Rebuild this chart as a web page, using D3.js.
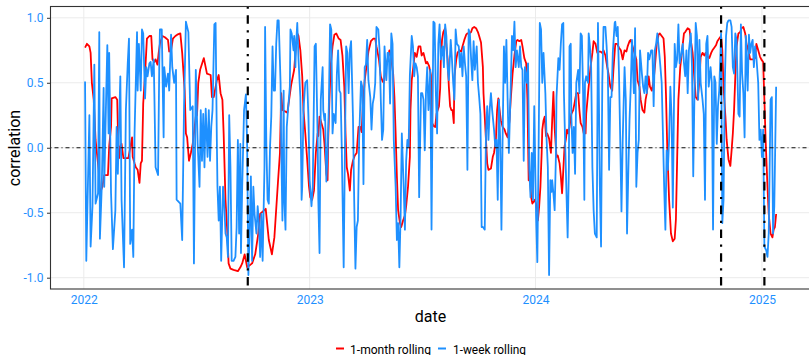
<!DOCTYPE html>
<html>
<head>
<meta charset="utf-8">
<script src="https://cdn.jsdelivr.net/npm/d3@7"></script>
<style>
  body { margin: 0; background: #ffffff; }
  svg { display: block; }
  text { font-family: Roboto, "Liberation Sans", sans-serif; }
</style>
</head>
<body>
<svg id="chart" width="809" height="355"></svg>
<script>
// Rolling correlation, 1-month window: [date, correlation]
const oneMonth = [
["2022-01-03",0.77],["2022-01-06",0.80],["2022-01-10",0.78],["2022-01-12",0.73],["2022-01-14",0.50],["2022-01-17",0.37],
["2022-01-20",0.06],["2022-01-25",-0.17],["2022-01-27",-0.35],["2022-01-31",-0.30],["2022-02-03",-0.21],["2022-02-09",-0.21],
["2022-02-11",0.01],["2022-02-14",0.16],["2022-02-15",0.38],["2022-02-21",0.39],["2022-02-24",0.37],["2022-02-25",0.16],
["2022-02-26",0.01],["2022-02-27",-0.08],["2022-03-01",0.01],["2022-03-03",0.03],["2022-03-06",-0.08],["2022-03-11",-0.08],
["2022-03-14",-0.08],["2022-03-20",0.08],["2022-03-21",-0.07],["2022-03-24",-0.12],["2022-03-26",-0.15],["2022-03-29",-0.17],
["2022-04-01",-0.27],["2022-04-03",-0.12],["2022-04-05",-0.10],["2022-04-07",0.34],["2022-04-10",0.57],["2022-04-13",0.84],
["2022-04-17",0.86],["2022-04-20",0.86],["2022-04-22",0.68],["2022-04-25",0.66],["2022-04-27",0.68],["2022-04-30",0.64],
["2022-05-02",0.73],["2022-05-04",0.80],["2022-05-08",0.86],["2022-05-12",0.85],["2022-05-17",0.83],["2022-05-19",0.74],
["2022-05-22",0.75],["2022-05-25",0.84],["2022-05-29",0.86],["2022-06-01",0.87],["2022-06-06",0.88],["2022-06-09",0.73],
["2022-06-13",0.44],["2022-06-15",0.11],["2022-06-17",0.08],["2022-06-20",-0.10],["2022-06-23",-0.04],["2022-06-26",0.03],
["2022-06-28",0.11],["2022-07-01",0.24],["2022-07-03",0.25],["2022-07-05",0.50],["2022-07-08",0.60],["2022-07-14",0.69],
["2022-07-19",0.57],["2022-07-25",0.56],["2022-07-27",0.39],["2022-07-30",0.39],["2022-08-04",0.52],["2022-08-07",0.56],
["2022-08-10",0.42],["2022-08-13",0.37],["2022-08-15",0.11],["2022-08-18",-0.40],["2022-08-21",-0.66],["2022-08-23",-0.89],
["2022-08-26",-0.93],["2022-08-31",-0.94],["2022-09-07",-0.95],["2022-09-11",-0.92],["2022-09-14",-0.89],["2022-09-18",-0.82],
["2022-09-22",-0.92],["2022-09-30",-0.89],["2022-10-05",-0.82],["2022-10-10",-0.66],["2022-10-13",-0.51],["2022-10-22",-0.47],
["2022-10-27",-0.71],["2022-11-01",-0.82],["2022-11-05",-0.69],["2022-11-11",-0.25],["2022-11-14",-0.04],["2022-11-16",0.42],
["2022-11-18",0.29],["2022-11-26",0.27],["2022-12-02",0.48],["2022-12-07",0.60],["2022-12-09",0.73],["2022-12-12",0.88],
["2022-12-14",0.86],["2022-12-17",0.75],["2022-12-20",0.55],["2022-12-22",0.29],["2022-12-25",0.11],["2022-12-28",-0.09],
["2022-12-31",-0.30],["2023-01-02",-0.38],["2023-01-05",-0.40],["2023-01-08",-0.33],["2023-01-11",-0.04],["2023-01-14",0.11],
["2023-01-15",0.09],["2023-01-17",0.24],["2023-01-20",0.19],["2023-01-23",0.14],["2023-01-25",0.03],["2023-01-28",-0.20],
["2023-01-30",-0.25],["2023-01-31",0.06],["2023-02-02",0.37],["2023-02-04",0.63],["2023-02-07",0.78],["2023-02-10",0.87],
["2023-02-13",0.88],["2023-02-17",0.84],["2023-02-20",0.83],["2023-02-23",0.71],["2023-02-26",0.47],["2023-02-28",0.11],
["2023-03-02",-0.15],["2023-03-04",-0.20],["2023-03-07",-0.33],["2023-03-09",-0.17],["2023-03-12",-0.10],["2023-03-15",-0.06],
["2023-03-18",-0.04],["2023-03-21",0.16],["2023-03-24",0.16],["2023-03-26",0.12],["2023-03-28",0.32],["2023-03-31",0.52],
["2023-04-03",0.63],["2023-04-06",0.74],["2023-04-10",0.82],["2023-04-14",0.84],["2023-04-17",0.84],["2023-04-19",0.78],
["2023-04-23",0.68],["2023-04-26",0.55],["2023-04-29",0.51],["2023-05-01",0.50],["2023-05-04",0.62],["2023-05-07",0.68],
["2023-05-10",0.75],["2023-05-13",0.68],["2023-05-16",0.57],["2023-05-18",0.39],["2023-05-20",0.11],["2023-05-22",-0.22],
["2023-05-24",-0.48],["2023-05-27",-0.58],["2023-05-29",-0.61],["2023-06-01",-0.56],["2023-06-04",-0.52],["2023-06-06",-0.45],
["2023-06-09",-0.30],["2023-06-12",-0.07],["2023-06-13",0.29],["2023-06-15",0.52],["2023-06-18",0.64],["2023-06-20",0.73],
["2023-06-23",0.70],["2023-06-26",0.78],["2023-06-29",0.78],["2023-07-01",0.71],["2023-07-04",0.73],["2023-07-08",0.65],
["2023-07-10",0.66],["2023-07-13",0.63],["2023-07-16",0.56],["2023-07-18",0.19],["2023-07-20",0.17],["2023-07-23",0.16],
["2023-07-25",0.26],["2023-07-29",0.32],["2023-07-31",0.46],["2023-08-01",0.68],["2023-08-03",0.83],["2023-08-05",0.89],
["2023-08-08",0.92],["2023-08-10",0.78],["2023-08-12",0.68],["2023-08-14",0.47],["2023-08-16",0.32],["2023-08-18",0.29],
["2023-08-20",0.29],["2023-08-22",0.19],["2023-08-23",0.55],["2023-08-26",0.68],["2023-08-28",0.73],["2023-08-31",0.75],
["2023-09-03",0.74],["2023-09-05",0.78],["2023-09-08",0.83],["2023-09-11",0.87],["2023-09-13",0.88],["2023-09-16",0.88],
["2023-09-19",0.89],["2023-09-21",0.92],["2023-09-24",0.93],["2023-09-27",0.92],["2023-09-30",0.89],["2023-10-02",0.86],
["2023-10-05",0.81],["2023-10-08",0.62],["2023-10-09",0.42],["2023-10-11",0.24],["2023-10-13",0.06],["2023-10-15",-0.12],
["2023-10-17",-0.17],["2023-10-21",-0.16],["2023-10-24",-0.07],["2023-10-26",-0.04],["2023-10-29",0.06],["2023-10-31",0.29],
["2023-11-02",0.38],["2023-11-04",0.29],["2023-11-06",0.21],["2023-11-09",0.16],["2023-11-12",0.14],["2023-11-14",0.11],
["2023-11-17",0.08],["2023-11-20",0.21],["2023-11-22",0.37],["2023-11-25",0.57],["2023-11-28",0.71],["2023-12-01",0.82],
["2023-12-03",0.83],["2023-12-06",0.82],["2023-12-09",0.83],["2023-12-11",0.78],["2023-12-14",0.69],["2023-12-17",0.65],
["2023-12-19",0.37],["2023-12-21",-0.25],["2023-12-23",-0.19],["2023-12-25",-0.38],["2023-12-27",-0.43],["2023-12-31",-0.40],
["2024-01-03",-0.45],["2024-01-05",-0.56],["2024-01-07",-0.45],["2024-01-09",-0.30],["2024-01-11",-0.04],["2024-01-12",0.14],
["2024-01-14",0.21],["2024-01-16",0.24],["2024-01-18",0.09],["2024-01-20",0.11],["2024-01-23",0.07],["2024-01-26",-0.04],
["2024-01-28",0.21],["2024-01-30",0.43],["2024-02-01",0.15],["2024-02-04",-0.07],["2024-02-06",-0.06],["2024-02-09",-0.12],
["2024-02-11",-0.22],["2024-02-13",-0.35],["2024-02-15",-0.17],["2024-02-17",0.01],["2024-02-19",0.06],["2024-02-21",0.14],
["2024-02-23",0.11],["2024-02-25",0.16],["2024-02-28",0.26],["2024-03-02",0.29],["2024-03-04",0.34],["2024-03-07",0.42],
["2024-03-10",0.42],["2024-03-12",0.29],["2024-03-14",0.19],["2024-03-17",0.16],["2024-03-19",0.11],["2024-03-22",0.11],
["2024-03-23",0.26],["2024-03-26",0.42],["2024-03-28",0.52],["2024-03-30",0.62],["2024-04-02",0.73],["2024-04-04",0.82],
["2024-04-07",0.80],["2024-04-10",0.73],["2024-04-12",0.74],["2024-04-15",0.74],["2024-04-18",0.73],["2024-04-20",0.75],
["2024-04-23",0.71],["2024-04-26",0.62],["2024-04-28",0.57],["2024-05-01",0.47],["2024-05-04",0.44],["2024-05-06",0.60],
["2024-05-09",0.80],["2024-05-12",0.80],["2024-05-15",0.77],["2024-05-18",0.75],["2024-05-21",0.68],["2024-05-24",0.75],
["2024-05-27",0.74],["2024-05-29",0.78],["2024-06-01",0.82],["2024-06-03",0.83],["2024-06-06",0.78],["2024-06-09",0.73],
["2024-06-12",0.68],["2024-06-14",0.52],["2024-06-17",0.47],["2024-06-19",0.37],["2024-06-22",0.29],["2024-06-25",0.27],
["2024-06-27",0.37],["2024-06-29",0.42],["2024-07-02",0.55],["2024-07-04",0.47],["2024-07-07",0.44],["2024-07-10",0.52],
["2024-07-12",0.62],["2024-07-15",0.80],["2024-07-18",0.87],["2024-07-20",0.88],["2024-07-23",0.86],["2024-07-26",0.84],
["2024-07-28",0.70],["2024-07-30",0.40],["2024-08-01",0.00],["2024-08-04",-0.40],["2024-08-07",-0.66],["2024-08-10",-0.72],
["2024-08-13",-0.70],["2024-08-15",-0.55],["2024-08-17",-0.09],["2024-08-19",0.37],["2024-08-22",0.62],["2024-08-25",0.75],
["2024-08-28",0.88],["2024-08-30",0.89],["2024-09-03",0.92],["2024-09-06",0.91],["2024-09-08",0.83],["2024-09-11",0.73],
["2024-09-14",0.52],["2024-09-16",0.39],["2024-09-19",0.37],["2024-09-22",0.52],["2024-09-24",0.70],["2024-09-27",0.73],
["2024-09-30",0.71],["2024-10-02",0.73],["2024-10-05",0.70],["2024-10-08",0.69],["2024-10-11",0.73],["2024-10-13",0.75],
["2024-10-16",0.77],["2024-10-19",0.79],["2024-10-21",0.82],["2024-10-24",0.84],["2024-10-27",0.86],["2024-10-29",0.75],
["2024-10-31",0.47],["2024-11-03",0.24],["2024-11-05",0.06],["2024-11-08",-0.09],["2024-11-11",-0.14],["2024-11-13",-0.02],
["2024-11-15",0.11],["2024-11-17",0.29],["2024-11-19",0.55],["2024-11-21",0.78],["2024-11-24",0.88],["2024-11-27",0.89],
["2024-11-29",0.92],["2024-12-02",0.93],["2024-12-05",0.88],["2024-12-07",0.80],["2024-12-10",0.75],["2024-12-13",0.68],
["2024-12-15",0.68],["2024-12-18",0.68],["2024-12-21",0.69],["2024-12-23",0.80],["2024-12-26",0.75],["2024-12-29",0.70],
["2024-12-31",0.68],["2025-01-03",0.66],["2025-01-05",0.37],["2025-01-07",0.06],["2025-01-10",-0.30],["2025-01-12",-0.51],
["2025-01-15",-0.66],["2025-01-18",-0.69],["2025-01-20",-0.63],["2025-01-22",-0.61],["2025-01-24",-0.51]
];

// Rolling correlation, 1-week window: [date, correlation]
const oneWeek = [
["2022-01-03",0.51],["2022-01-05",-0.87],["2022-01-10",0.25],["2022-01-12",-0.76],["2022-01-15",-0.45],["2022-01-18",0.64],
["2022-01-20",-0.43],["2022-01-24",-0.35],["2022-01-26",0.89],["2022-01-27",-0.70],["2022-01-30",-0.30],["2022-02-02",0.46],
["2022-02-03",-0.30],["2022-02-06",0.37],["2022-02-08",0.79],["2022-02-10",0.11],["2022-02-11",0.73],["2022-02-14",-0.35],
["2022-02-17",-0.78],["2022-02-21",-0.48],["2022-02-23",0.16],["2022-02-25",-0.20],["2022-03-01",0.55],["2022-03-03",-0.40],
["2022-03-07",-0.92],["2022-03-10",0.29],["2022-03-13",0.65],["2022-03-15",0.84],["2022-03-17",-0.74],["2022-03-20",-0.63],
["2022-03-22",-0.84],["2022-03-24",0.11],["2022-03-28",0.89],["2022-03-29",0.44],["2022-03-31",0.80],["2022-04-03",0.44],
["2022-04-05",0.91],["2022-04-07",0.88],["2022-04-10",0.38],["2022-04-12",0.62],["2022-04-14",0.55],["2022-04-17",0.65],
["2022-04-19",0.66],["2022-04-21",0.55],["2022-04-24",0.68],["2022-04-25",0.42],["2022-04-27",-0.15],["2022-05-01",-0.21],
["2022-05-03",0.66],["2022-05-04",0.91],["2022-05-07",0.91],["2022-05-10",0.08],["2022-05-11",0.62],["2022-05-14",0.47],
["2022-05-17",0.57],["2022-05-19",0.44],["2022-05-22",0.87],["2022-05-24",0.62],["2022-05-27",0.50],["2022-05-30",0.60],
["2022-05-31",-0.40],["2022-06-06",-0.43],["2022-06-09",-0.71],["2022-06-12",0.32],["2022-06-15",0.97],["2022-06-19",0.89],
["2022-06-22",0.29],["2022-06-26",0.32],["2022-06-28",-0.89],["2022-07-01",0.60],["2022-07-04",0.03],["2022-07-07",-0.30],
["2022-07-09",0.29],["2022-07-11",-0.10],["2022-07-13",0.26],["2022-07-15",-0.15],["2022-07-17",0.30],["2022-07-20",-0.07],
["2022-07-22",0.29],["2022-07-24",-0.10],["2022-07-26",0.16],["2022-07-28",0.29],["2022-07-31",0.95],["2022-08-02",0.96],
["2022-08-04",0.06],["2022-08-05",-0.30],["2022-08-07",-0.56],["2022-08-09",-0.30],["2022-08-11",-0.87],["2022-08-14",-0.30],
["2022-08-16",-0.43],["2022-08-18",-0.66],["2022-08-20",-0.69],["2022-08-22",-0.84],["2022-08-24",0.25],["2022-08-26",-0.15],
["2022-08-28",-0.87],["2022-08-31",-0.87],["2022-09-03",-0.84],["2022-09-05",-0.61],["2022-09-07",0.06],["2022-09-09",-0.66],
["2022-09-11",0.03],["2022-09-12",-0.81],["2022-09-14",-0.30],["2022-09-17",0.29],["2022-09-19",0.37],["2022-09-20",0.41],
["2022-09-22",0.01],["2022-09-24",-0.98],["2022-09-26",-0.66],["2022-09-28",-0.22],["2022-09-30",-0.87],["2022-10-02",-0.30],
["2022-10-04",-0.51],["2022-10-07",-0.66],["2022-10-09",-0.45],["2022-10-11",-0.58],["2022-10-13",-0.84],["2022-10-15",-0.51],
["2022-10-17",-0.87],["2022-10-20",-0.15],["2022-10-21",0.93],["2022-10-23",0.03],["2022-10-25",-0.40],["2022-10-27",-0.43],
["2022-10-29",0.01],["2022-10-31",0.24],["2022-11-02",0.78],["2022-11-04",0.44],["2022-11-06",0.44],["2022-11-08",0.80],
["2022-11-10",0.98],["2022-11-12",0.98],["2022-11-15",0.50],["2022-11-16",0.03],["2022-11-18",-0.56],["2022-11-20",0.44],
["2022-11-21",-0.40],["2022-11-23",-0.63],["2022-11-25",0.16],["2022-11-27",0.29],["2022-11-30",0.47],["2022-12-01",0.91],
["2022-12-03",0.88],["2022-12-06",0.75],["2022-12-07",0.86],["2022-12-09",0.62],["2022-12-10",0.78],["2022-12-12",0.96],
["2022-12-14",0.68],["2022-12-17",0.39],["2022-12-19",-0.40],["2022-12-20",-0.30],["2022-12-22",0.29],["2022-12-25",0.50],
["2022-12-28",0.52],["2022-12-30",0.24],["2023-01-01",-0.25],["2023-01-04",-0.45],["2023-01-06",-0.30],["2023-01-09",0.78],
["2023-01-11",0.80],["2023-01-14",0.06],["2023-01-15",-0.40],["2023-01-17",-0.81],["2023-01-19",0.37],["2023-01-22",0.62],
["2023-01-23",0.29],["2023-01-25",0.21],["2023-01-26",0.26],["2023-01-28",-0.26],["2023-01-30",-0.04],["2023-02-01",0.32],
["2023-02-03",0.95],["2023-02-05",0.91],["2023-02-07",0.11],["2023-02-09",0.26],["2023-02-12",0.19],["2023-02-14",0.57],
["2023-02-16",0.75],["2023-02-18",0.44],["2023-02-20",0.42],["2023-02-22",-0.02],["2023-02-25",-0.92],["2023-02-27",-0.02],
["2023-03-01",0.78],["2023-03-03",0.73],["2023-03-05",0.42],["2023-03-07",0.75],["2023-03-09",0.82],["2023-03-12",0.24],
["2023-03-14",-0.40],["2023-03-16",-0.93],["2023-03-18",-0.61],["2023-03-20",-0.56],["2023-03-22",0.06],["2023-03-25",0.51],
["2023-03-27",0.47],["2023-03-29",-0.28],["2023-03-31",0.62],["2023-04-02",0.64],["2023-04-04",0.83],["2023-04-06",0.52],
["2023-04-09",0.39],["2023-04-11",0.14],["2023-04-13",0.34],["2023-04-15",0.39],["2023-04-17",0.50],["2023-04-19",0.93],
["2023-04-22",0.91],["2023-04-24",0.75],["2023-04-26",0.37],["2023-04-28",0.06],["2023-04-30",0.14],["2023-05-02",0.78],
["2023-05-05",0.52],["2023-05-07",0.73],["2023-05-09",0.73],["2023-05-11",0.34],["2023-05-13",0.88],["2023-05-15",0.80],
["2023-05-17",0.06],["2023-05-20",-0.30],["2023-05-22",-0.71],["2023-05-24",-0.58],["2023-05-26",-0.92],["2023-05-28",-0.53],
["2023-05-30",0.11],["2023-06-02",-0.30],["2023-06-04",-0.63],["2023-06-06",-0.10],["2023-06-08",0.06],["2023-06-10",0.01],
["2023-06-12",0.56],["2023-06-15",0.86],["2023-06-17",0.78],["2023-06-19",0.55],["2023-06-21",0.65],["2023-06-23",0.62],
["2023-06-25",0.55],["2023-06-27",-0.38],["2023-06-30",0.42],["2023-07-02",0.42],["2023-07-04",0.37],["2023-07-06",-0.02],
["2023-07-08",0.42],["2023-07-10",0.62],["2023-07-12",0.29],["2023-07-15",0.60],["2023-07-17",-0.63],["2023-07-20",0.97],
["2023-07-22",0.96],["2023-07-24",0.42],["2023-07-26",0.11],["2023-07-28",0.80],["2023-07-30",0.95],["2023-08-01",0.68],
["2023-08-04",0.78],["2023-08-06",0.62],["2023-08-08",0.95],["2023-08-10",0.86],["2023-08-12",0.62],["2023-08-14",0.52],
["2023-08-17",0.83],["2023-08-19",0.68],["2023-08-21",0.50],["2023-08-23",0.37],["2023-08-25",0.91],["2023-08-27",0.80],
["2023-08-30",0.78],["2023-09-01",0.62],["2023-09-03",0.73],["2023-09-05",0.55],["2023-09-07",0.78],["2023-09-09",0.65],
["2023-09-11",0.55],["2023-09-13",-0.17],["2023-09-15",0.91],["2023-09-17",0.88],["2023-09-19",0.68],["2023-09-21",0.52],
["2023-09-23",0.82],["2023-09-25",0.60],["2023-09-28",0.78],["2023-09-30",0.50],["2023-10-02",0.39],["2023-10-04",0.26],
["2023-10-06",-0.61],["2023-10-08",-0.61],["2023-10-11",-0.63],["2023-10-13",0.11],["2023-10-15",0.32],["2023-10-17",0.06],
["2023-10-19",0.29],["2023-10-21",0.42],["2023-10-23",0.29],["2023-10-26",0.14],["2023-10-28",0.01],["2023-10-30",0.06],
["2023-11-01",-0.40],["2023-11-03",0.37],["2023-11-05",0.06],["2023-11-07",-0.63],["2023-11-09",0.11],["2023-11-11",0.78],
["2023-11-13",0.50],["2023-11-15",0.83],["2023-11-17",0.37],["2023-11-19",-0.04],["2023-11-22",0.47],["2023-11-24",0.86],
["2023-11-26",0.75],["2023-11-28",0.97],["2023-11-30",0.62],["2023-12-02",0.75],["2023-12-05",0.62],["2023-12-07",0.78],
["2023-12-09",0.62],["2023-12-11",0.60],["2023-12-13",-0.10],["2023-12-15",0.62],["2023-12-18",0.50],["2023-12-20",0.65],
["2023-12-22",-0.17],["2023-12-24",-0.38],["2023-12-26",-0.04],["2023-12-28",-0.40],["2023-12-30",0.32],["2024-01-02",-0.53],
["2024-01-04",-0.88],["2024-01-06",-0.04],["2024-01-08",0.96],["2024-01-10",0.91],["2024-01-12",0.50],["2024-01-14",0.73],
["2024-01-17",0.42],["2024-01-19",0.06],["2024-01-21",-0.15],["2024-01-23",-0.98],["2024-01-25",-0.25],["2024-01-27",-0.34],
["2024-01-28",-0.25],["2024-01-30",-0.35],["2024-02-01",-0.48],["2024-02-03",-0.07],["2024-02-04",0.39],["2024-02-07",0.69],
["2024-02-09",0.60],["2024-02-11",0.80],["2024-02-13",0.95],["2024-02-15",0.96],["2024-02-16",0.42],["2024-02-18",0.03],
["2024-02-20",-0.33],["2024-02-22",-0.69],["2024-02-24",-0.15],["2024-02-25",0.78],["2024-02-27",0.80],["2024-02-28",0.24],
["2024-03-01",-0.04],["2024-03-03",0.16],["2024-03-05",-0.20],["2024-03-07",0.50],["2024-03-10",0.60],["2024-03-12",0.42],
["2024-03-14",0.88],["2024-03-16",0.86],["2024-03-18",0.42],["2024-03-20",-0.40],["2024-03-21",0.50],["2024-03-23",0.55],
["2024-03-26",0.50],["2024-03-27",0.88],["2024-03-29",0.78],["2024-03-31",0.62],["2024-04-02",-0.15],["2024-04-04",-0.48],
["2024-04-06",-0.66],["2024-04-09",-0.69],["2024-04-11",0.96],["2024-04-12",0.62],["2024-04-14",-0.28],["2024-04-16",-0.76],
["2024-04-18",0.50],["2024-04-20",0.93],["2024-04-23",0.93],["2024-04-25",0.78],["2024-04-27",0.57],["2024-04-29",-0.17],
["2024-05-01",0.39],["2024-05-03",0.39],["2024-05-05",0.73],["2024-05-08",0.96],["2024-05-09",0.97],["2024-05-11",0.86],
["2024-05-13",0.93],["2024-05-15",0.57],["2024-05-17",0.06],["2024-05-19",-0.49],["2024-05-21",0.06],["2024-05-24",0.62],
["2024-05-26",0.37],["2024-05-28",-0.66],["2024-05-30",-0.20],["2024-06-01",0.21],["2024-06-03",0.47],["2024-06-05",0.83],
["2024-06-08",0.42],["2024-06-10",0.92],["2024-06-12",-0.30],["2024-06-14",-0.04],["2024-06-16",0.06],["2024-06-18",0.75],
["2024-06-21",0.57],["2024-06-23",0.47],["2024-06-25",0.42],["2024-06-27",0.55],["2024-06-29",0.42],["2024-07-01",0.73],
["2024-07-03",0.68],["2024-07-06",0.75],["2024-07-08",0.75],["2024-07-10",0.32],["2024-07-12",0.75],["2024-07-14",0.80],
["2024-07-16",0.88],["2024-07-19",0.73],["2024-07-21",0.62],["2024-07-23",0.50],["2024-07-25",0.11],["2024-07-27",-0.30],
["2024-07-29",-0.63],["2024-07-31",-0.02],["2024-08-02",-0.17],["2024-08-04",0.06],["2024-08-06",0.47],["2024-08-08",0.24],
["2024-08-10",-0.46],["2024-08-13",0.80],["2024-08-15",0.62],["2024-08-17",0.68],["2024-08-19",0.95],["2024-08-21",0.65],
["2024-08-23",0.70],["2024-08-26",0.80],["2024-08-28",0.65],["2024-08-30",0.55],["2024-09-01",0.75],["2024-09-03",0.42],
["2024-09-05",0.75],["2024-09-08",0.88],["2024-09-10",0.62],["2024-09-12",-0.22],["2024-09-14",0.42],["2024-09-16",0.96],
["2024-09-18",0.86],["2024-09-20",0.37],["2024-09-22",0.83],["2024-09-24",0.50],["2024-09-27",0.37],["2024-09-29",0.26],
["2024-10-01",-0.40],["2024-10-03",0.80],["2024-10-05",0.86],["2024-10-07",0.47],["2024-10-10",0.62],["2024-10-12",0.50],
["2024-10-14",-0.63],["2024-10-16",0.55],["2024-10-18",0.50],["2024-10-20",0.03],["2024-10-22",0.32],["2024-10-24",0.44],
["2024-10-27",0.88],["2024-10-29",-0.58],["2024-10-31",-0.40],["2024-11-02",0.50],["2024-11-04",0.86],["2024-11-06",0.96],
["2024-11-08",0.98],["2024-11-11",0.98],["2024-11-13",0.93],["2024-11-15",0.62],["2024-11-17",0.57],["2024-11-19",0.88],
["2024-11-21",0.83],["2024-11-24",0.26],["2024-11-26",0.24],["2024-11-28",0.95],["2024-11-30",0.57],["2024-12-02",0.42],
["2024-12-04",0.08],["2024-12-06",0.86],["2024-12-09",0.44],["2024-12-11",0.87],["2024-12-13",0.73],["2024-12-15",0.80],
["2024-12-17",0.83],["2024-12-19",0.62],["2024-12-21",0.78],["2024-12-23",0.70],["2024-12-26",0.50],["2024-12-28",0.06],
["2024-12-30",0.14],["2025-01-01",-0.07],["2025-01-03",0.14],["2025-01-05",-0.76],["2025-01-08",-0.79],["2025-01-10",-0.84],
["2025-01-12",-0.66],["2025-01-15",0.37],["2025-01-17",0.39],["2025-01-19",-0.66],["2025-01-21",-0.45],["2025-01-22",-0.15],
["2025-01-24",0.47]
];

// Event markers drawn as vertical dot-dash lines
const eventDates = ["2022-09-23", "2024-10-27", "2025-01-05"];

// Axis ticks
const yTicks = [-1, -0.5, 0, 0.5, 1];
const yearTicks = ["2022-01-01", "2023-01-01", "2024-01-01", "2025-01-01"];

// Legend entries
const seriesNames = ["1-month rolling", "1-week rolling"];
const seriesColors = ["#ff0000", "#1e90ff"];

const parse = d3.utcParse("%Y-%m-%d");
const monthData = oneMonth.map(([d, v]) => ({ date: parse(d), value: v }));
const weekData = oneWeek.map(([d, v]) => ({ date: parse(d), value: v }));

const svg = d3.select("#chart");
const panel = { left: 50.5, top: 6.5, right: 810.7, bottom: 289 };

// Time extent padded by 5% on each side
const ext = d3.extent(monthData.concat(weekData), d => d.date);
const pad = (ext[1] - ext[0]) * 0.05;
const x = d3.scaleUtc()
  .domain([new Date(+ext[0] - pad), new Date(+ext[1] + pad)])
  .range([panel.left, panel.right]);
const y = d3.scaleLinear()
  .domain([-1.087, 1.087])
  .range([panel.bottom, panel.top]);

const tickColor = "#1e90ff";

svg.append("defs").append("clipPath").attr("id", "panel-clip")
  .append("rect")
  .attr("x", panel.left).attr("y", panel.top)
  .attr("width", panel.right - panel.left).attr("height", panel.bottom - panel.top);

// Grid
const grid = svg.append("g");
grid.selectAll("line.h").data(yTicks).join("line")
  .attr("x1", panel.left).attr("x2", panel.right)
  .attr("y1", d => y(d)).attr("y2", d => y(d))
  .attr("stroke", "#ebebeb").attr("stroke-width", 1);
grid.selectAll("line.v").data(yearTicks.map(parse)).join("line")
  .attr("x1", d => x(d)).attr("x2", d => x(d))
  .attr("y1", panel.top).attr("y2", panel.bottom)
  .attr("stroke", "#ebebeb").attr("stroke-width", 1);

const plot = svg.append("g").attr("clip-path", "url(#panel-clip)");

const line = d3.line().x(d => x(d.date)).y(d => y(d.value));

plot.append("path").datum(monthData)
  .attr("d", line).attr("fill", "none")
  .attr("stroke", seriesColors[0]).attr("stroke-width", 1.8)
  .attr("stroke-linejoin", "round");

plot.append("path").datum(weekData)
  .attr("d", line).attr("fill", "none")
  .attr("stroke", seriesColors[1]).attr("stroke-width", 1.8)
  .attr("stroke-linejoin", "round");

// Zero reference
plot.append("line")
  .attr("x1", panel.left).attr("x2", panel.right)
  .attr("y1", y(0)).attr("y2", y(0))
  .attr("stroke", "#111").attr("stroke-width", 1)
  .attr("stroke-dasharray", "1,3,4,3");

// Event lines
plot.selectAll("line.event").data(eventDates.map(parse)).join("line")
  .attr("x1", d => x(d)).attr("x2", d => x(d))
  .attr("y1", panel.top).attr("y2", panel.bottom)
  .attr("stroke", "#000").attr("stroke-width", 2.2)
  .attr("stroke-dasharray", "2.2,6.5,8.6,6.5");

// Panel border
svg.append("rect")
  .attr("x", panel.left).attr("y", panel.top)
  .attr("width", panel.right - panel.left).attr("height", panel.bottom - panel.top)
  .attr("fill", "none").attr("stroke", "#333").attr("stroke-width", 1.1);

// Y axis
const yAxis = svg.append("g")
  .attr("transform", `translate(${panel.left},0)`)
  .call(d3.axisLeft(y).tickValues(yTicks).tickFormat(d => d.toFixed(1)).tickSize(3.5).tickPadding(3.5));
yAxis.select(".domain").remove();
yAxis.selectAll(".tick line").attr("stroke", "#333").attr("stroke-width", 1);
yAxis.selectAll(".tick text")
  .attr("fill", tickColor).style("font-size", "12px")
  .style("font-family", "Roboto, sans-serif");

// X axis
const xAxis = svg.append("g")
  .attr("transform", `translate(0,${panel.bottom})`)
  .call(d3.axisBottom(x).tickValues(yearTicks.map(parse)).tickFormat(d3.utcFormat("%Y")).tickSize(0).tickPadding(6.5));
xAxis.select(".domain").remove();
xAxis.selectAll(".tick text")
  .attr("fill", tickColor).style("font-size", "12px")
  .style("font-family", "Roboto, sans-serif");

// Axis titles
svg.append("text")
  .attr("x", 430.5).attr("y", 321.5)
  .attr("text-anchor", "middle")
  .attr("fill", "#000").style("font-size", "16px")
  .text("date");

svg.append("text")
  .attr("transform", "translate(20,148) rotate(-90)")
  .attr("text-anchor", "middle")
  .attr("fill", "#000").style("font-size", "16px")
  .text("correlation");

// Legend
const legendItems = [
  { name: seriesNames[0], color: seriesColors[0], keyX: 336, textX: 350, width: 81 },
  { name: seriesNames[1], color: seriesColors[1], keyX: 438, textX: 453, width: 73 }
];
const legend = svg.append("g");
legendItems.forEach(item => {
  legend.append("line")
    .attr("x1", item.keyX).attr("x2", item.keyX + 8)
    .attr("y1", 348.5).attr("y2", 348.5)
    .attr("stroke", item.color).attr("stroke-width", 2);
  legend.append("text")
    .attr("x", item.textX).attr("y", 353.5)
    .attr("fill", "#000").style("font-size", "13px")
    .attr("textLength", item.width).attr("lengthAdjust", "spacingAndGlyphs")
    .text(item.name);
});
</script>
</body>
</html>
